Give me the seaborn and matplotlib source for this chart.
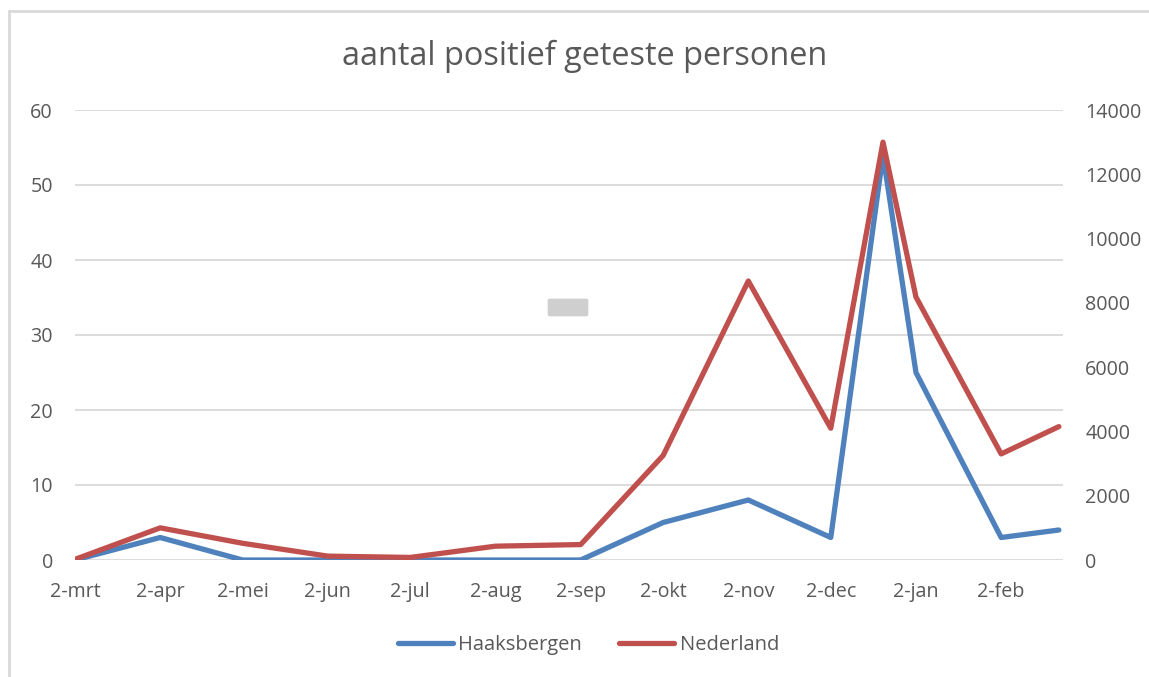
import matplotlib
matplotlib.use("Agg")
import matplotlib.pyplot as plt
import matplotlib.dates as mdates
from matplotlib.patches import FancyBboxPatch
from matplotlib.lines import Line2D
import seaborn as sns
import pandas as pd

dates = ["2020-03-02", "2020-04-02", "2020-05-02", "2020-06-02", "2020-07-02",
         "2020-08-02", "2020-09-02", "2020-10-02", "2020-11-02", "2020-12-02",
         "2020-12-21", "2021-01-02", "2021-02-02", "2021-02-23"]
haaksbergen = [0, 3, 0, 0, 0, 0, 0, 5, 8, 3, 54, 25, 3, 4]
nederland = [20, 1000, 520, 120, 80, 430, 480, 3250, 8680, 4100, 13000, 8180, 3300, 4150]

tick_dates = ["2020-03-02", "2020-04-02", "2020-05-02", "2020-06-02", "2020-07-02",
              "2020-08-02", "2020-09-02", "2020-10-02", "2020-11-02", "2020-12-02",
              "2021-01-02", "2021-02-02"]
tick_labels = ["2-mrt", "2-apr", "2-mei", "2-jun", "2-jul", "2-aug", "2-sep",
               "2-okt", "2-nov", "2-dec", "2-jan", "2-feb"]

df = pd.DataFrame({"datum": pd.to_datetime(dates),
                   "Haaksbergen": haaksbergen,
                   "Nederland": nederland})

sns.set_theme(style="white")
plt.rcParams["font.family"] = ["Open Sans", "DejaVu Sans"]

blue = "#4F81BD"
red = "#C0504D"
grey_txt = "#595959"

fig = plt.figure(figsize=(11.49, 6.77), dpi=100)
ax = fig.add_axes([75 / 1149, 1 - 560 / 677, (1063 - 75) / 1149, 450 / 677])
ax2 = ax.twinx()

sns.lineplot(data=df, x="datum", y="Haaksbergen", color=blue, lw=3.8, ax=ax,
             zorder=3)
sns.lineplot(data=df, x="datum", y="Nederland", color=red, lw=3.8, ax=ax2,
             zorder=3)

start = pd.Timestamp("2020-03-02")
ax.set_xlim(mdates.date2num(start), mdates.date2num(start) + 359.5)
ax.set_ylim(0, 60)
ax2.set_ylim(0, 14000)
ax.set_yticks(range(0, 61, 10))
ax2.set_yticks(range(0, 14001, 2000))
ax.set_xticks(mdates.date2num(pd.to_datetime(tick_dates)))
ax.set_xticklabels(tick_labels)

ax.grid(axis="y", color="#D9D9D9", lw=1.3)
ax.set_axisbelow(True)
ax.set_xlabel("")
ax.set_ylabel("")
ax2.set_ylabel("")
for a in (ax, ax2):
    for s in a.spines.values():
        s.set_visible(False)
    a.tick_params(length=0, labelsize=14.2, labelcolor=grey_txt)
ax.tick_params(axis="y", pad=16)
ax.tick_params(axis="x", pad=16)
ax2.tick_params(axis="y", pad=16)

fig.text(0.509, 1 - 56 / 677, "aantal positief geteste personen",
         ha="center", va="center", fontsize=23.4, color=grey_txt)

handles = [Line2D([], [], color=blue, lw=3.8, solid_capstyle="round"),
           Line2D([], [], color=red, lw=3.8, solid_capstyle="round")]
fig.legend(handles, ["Haaksbergen", "Nederland"], loc="center",
           bbox_to_anchor=(0.512, 1 - 645 / 677), ncol=2, frameon=False,
           fontsize=14.5, labelcolor=grey_txt, handlelength=2.75,
           handletextpad=0.25, columnspacing=1.85)

# faint blurred box in the reference
fig.patches.append(FancyBboxPatch((550 / 1149, 1 - 315 / 677), 36 / 1149, 15 / 677,
                                  boxstyle="round,pad=0.002", transform=fig.transFigure,
                                  fc="#C4C4C4", ec="none", alpha=0.8))

# outer chart frame
fig.add_artist(Line2D([9 / 1149, 9 / 1149], [0, 1 - 11 / 677], color="#D9D9D9",
                      lw=2, transform=fig.transFigure))
fig.add_artist(Line2D([9 / 1149, 1], [1 - 11 / 677, 1 - 11 / 677], color="#D9D9D9",
                      lw=2, transform=fig.transFigure))

fig.savefig("out.png", dpi=100)
